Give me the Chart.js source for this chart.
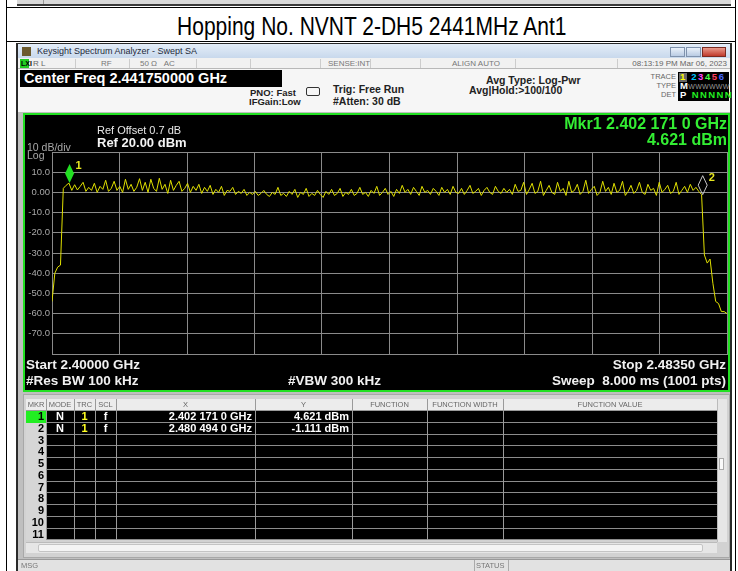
<!DOCTYPE html>
<html><head><meta charset="utf-8">
<script src="https://cdn.jsdelivr.net/npm/chart.js@4.4.1/dist/chart.umd.min.js"></script>
<style>
body{margin:0;width:738px;height:571px;overflow:hidden;background:#fff;font-family:"Liberation Sans",Arial,sans-serif;position:relative}
.a{position:absolute;white-space:nowrap}
.n{font-family:"Liberation Sans Narrow","Liberation Sans",Arial,sans-serif}
.b{font-weight:bold}
</style></head><body>
<script>
// ---------------- data ----------------
const chartTitle = 'Hopping No. NVNT 2-DH5 2441MHz Ant1';
const sweepStartGHz = 2.400;
const sweepStopGHz = 2.4835;
// trace levels (dBm), evenly spaced across the sweep
const traceLevels = [
 -54, -40, -37, -36,
 2, 3.5, 4.6, 1, 3.8, 1.2, 3,
 5, 0.5, 2.5, 1, 4.5, 0, 3, 1.5, 6, 0.5, 2, 5.5, 1, 3, 0, 6.5, 1.5, 4, 0.5, 2.5,
 6.8, 1, 5, 0, 6.5, 2, 0.5, 7, 1.5, 4, -0.5, 6, 1, 3.5, 5.5, 0.5, 2, 4.5, 0, 3,
 1, 4, -0.5, 2.5, 0.5, 3.5, -1, 1.5, 0, 3, -1.5, 1, 0.5, 2.5, -1, 0.5, -0.5, 1.5, -1.5, 0,
 -1, 0.5, -1.5, -0.5, 1, -1, -2, 0, -1, 2.5, -1.5, -0.5, -2, 0.5, -1, 1.5, -2.5, 0, -1, 2,
 -2, -0.5, -1.5, 1, -1, -2.5, 0.5, -1, 1.5, -1.5,
 -0.5, 2, -2, 0, -1, 1.5, -1.5, -0.5, 2.5, -1, 0, -2, 1, -0.5, 3, -1.5, 0, 2, -1, 0.5, -2, 1.5, -0.5,
 3.5, 0, 1.5, -1, 2.5, 0.5, -1.5, 3, 0, 1, -1, 2, 0.5, -1.5, 2.5, 0, 1.5, -1, 3, 0,
 -0.5, 2, -1, 1, 3.5, -0.5, 0.5, 2, -1.5, 1, 2.5, 0, -1, 3, 0.5, -0.5, 2, 0, 1.5, -1, 4, 0.5, 1,
 5, -1, 1.5, 4.5, -0.5, 0.5, 5.5, -1.5, 1, 3.5, 0, -1, 5, 0.5, 2, -1.5, 5.5, 0, 1, 4,
 -1, 0.5, 6, -0.5, 1.5, 3, -1.5, 0, 5.5, 0.5, 2.5, -1, 4.5, 0, 1, 5.5, -1.5, 0.5, 3.5, -0.5,
 1, 5, 0, -1, 4, 1, 2, -1.5, 5, 0, 1.5, 3.5, -0.5, 0.5, 5, -1, 1, 3, 0, 4, 1, 2.5, 0.5,
 -1.1,
 -31, -35, -33, -45, -54, -55, -59, -59, -60
];
const yTickValues = [-80, -70, -60, -50, -40, -30, -20, -10, 0, 10, 20];
const yTickLabels = ['', '-70.0', '-60.0', '-50.0', '-40.0', '-30.0', '-20.0', '-10.0', '0.00', '10.0', ''];
const xGridGHz = [2.400, 2.40835, 2.4167, 2.42505, 2.4334, 2.44175, 2.4501, 2.45845, 2.4668, 2.47515, 2.4835];
const markerNames = ['1', '2'];
const markerFreqsGHz = [2.402171, 2.480494];
const markerLevels = [4.621, -1.111];
const markerModes = ['N', 'N'];
const markerTraces = ['1', '1'];
const markerScales = ['f', 'f'];
const tableHeaders = ['MKR', 'MODE', 'TRC', 'SCL', 'X', 'Y', 'FUNCTION', 'FUNCTION WIDTH', 'FUNCTION VALUE'];
const tableRowCount = 11;
</script>

<!-- outer table / page -->
<div class="a" style="left:17px;top:0;width:714px;height:4px;background:#d9d9d9"></div>
<div class="a" style="left:17px;top:4px;width:714px;height:2px;background:#3a3a3a"></div>
<div class="a" style="left:43px;top:0;width:1px;height:4px;background:#999"></div>
<div class="a" style="left:6px;top:0;width:1px;height:571px;background:#000"></div>
<div class="a" style="left:735px;top:0;width:1px;height:571px;background:#000"></div>
<div class="a" style="left:6px;top:7px;width:730px;height:1px;background:#000"></div>
<div class="a" style="left:6px;top:41px;width:730px;height:1px;background:#000"></div>
<div class="a" id="title" style="left:7px;top:10px;width:728px;height:33px;line-height:33px;text-align:center;font-size:25px;color:#000;transform:scaleX(0.84);transform-origin:369px 0"></div>

<!-- analyzer window -->
<div class="a" style="left:16px;top:43px;width:716px;height:528px;background:#2a2a2a"></div>
<div class="a" style="left:18px;top:44px;width:712px;height:14px;background:linear-gradient(#e4edf8,#c8d8ec)"></div>
<div class="a" style="left:22px;top:47px;width:9px;height:9px;background:#6b5a2e"></div>
<div class="a" style="left:37px;top:44px;line-height:14px;font-size:9px;color:#1f2a3a">Keysight Spectrum Analyzer - Swept SA</div>
<div class="a" style="left:670px;top:47px;width:15px;height:10px;background:linear-gradient(#eaf1fa,#b9cbe3);border:1px solid #7f92ad;box-sizing:border-box"></div>
<div class="a" style="left:686px;top:47px;width:15px;height:10px;background:linear-gradient(#eaf1fa,#b9cbe3);border:1px solid #7f92ad;box-sizing:border-box"></div>
<div class="a" style="left:702px;top:47px;width:24px;height:10px;background:linear-gradient(#e99a8c,#c0392b);border:1px solid #7a2a20;box-sizing:border-box"></div>

<!-- status row -->
<div class="a" style="left:18px;top:58px;width:712px;height:11px;background:#f1f1f1;border-bottom:1px solid #b8b8b8;box-sizing:border-box"></div>
<div class="a" style="left:20px;top:59px;width:9px;height:9px;background:#22cc22"></div>
<div class="a n" style="left:21px;top:58px;line-height:11px;font-size:7px;color:#000;font-weight:bold">LXI</div>
<div class="a n" style="left:33px;top:58px;line-height:11px;font-size:8px;color:#666">R L</div>
<div class="a n" style="left:101px;top:58px;line-height:11px;font-size:8px;color:#777">RF</div>
<div class="a n" style="left:140px;top:58px;line-height:11px;font-size:8px;color:#777">50 Ω &nbsp;&nbsp;AC</div>
<div class="a n" style="left:328px;top:58px;line-height:11px;font-size:8px;color:#777">SENSE:INT</div>
<div class="a n" style="left:452px;top:58px;line-height:11px;font-size:8px;color:#777">ALIGN AUTO</div>
<div class="a n" style="left:626px;top:58px;width:101px;text-align:right;line-height:11px;font-size:8px;color:#666">08:13:19 PM Mar 06, 2023</div>
<div class="a" style="left:75px;top:59px;width:1px;height:9px;background:#ccc"></div>
<div class="a" style="left:129px;top:59px;width:1px;height:9px;background:#ccc"></div>
<div class="a" style="left:196px;top:59px;width:1px;height:9px;background:#ccc"></div>
<div class="a" style="left:250px;top:59px;width:1px;height:9px;background:#ccc"></div>
<div class="a" style="left:320px;top:59px;width:1px;height:9px;background:#ccc"></div>
<div class="a" style="left:370px;top:59px;width:1px;height:9px;background:#ccc"></div>
<div class="a" style="left:420px;top:59px;width:1px;height:9px;background:#ccc"></div>
<div class="a" style="left:515px;top:59px;width:1px;height:9px;background:#ccc"></div>
<div class="a" style="left:617px;top:59px;width:1px;height:9px;background:#ccc"></div>

<!-- info area -->
<div class="a" style="left:18px;top:69px;width:712px;height:43px;background:#f6f6f6"></div>
<div class="a" style="left:20px;top:70px;width:262px;height:17px;background:#000"></div>
<div class="a b" style="left:24px;top:70px;line-height:17px;font-size:14.5px;color:#fff">Center Freq 2.441750000 GHz</div>
<div class="a b n" style="left:250px;top:88px;line-height:10px;font-size:9.5px;color:#222">PNO: Fast</div>
<div class="a b n" style="left:249px;top:97px;line-height:10px;font-size:9.5px;color:#222">IFGain:Low</div>
<div class="a" style="left:306px;top:87px;width:14px;height:9px;border:1px solid #333;border-radius:2px;box-sizing:border-box"></div>
<div class="a b n" style="left:333px;top:84px;line-height:11px;font-size:10.5px;color:#222">Trig: Free Run</div>
<div class="a b n" style="left:333px;top:96px;line-height:11px;font-size:10.5px;color:#222">#Atten: 30 dB</div>
<div class="a b n" style="left:486px;top:75px;line-height:11px;font-size:10.5px;color:#222">Avg Type: Log-Pwr</div>
<div class="a b n" style="left:469px;top:85px;line-height:11px;font-size:10.5px;color:#222">Avg|Hold:&gt;100/100</div>
<div class="a n" style="left:630px;top:72px;width:46px;text-align:right;line-height:10px;font-size:7.5px;color:#666">TRACE</div>
<div class="a n" style="left:630px;top:81px;width:46px;text-align:right;line-height:10px;font-size:7.5px;color:#666">TYPE</div>
<div class="a n" style="left:630px;top:90px;width:46px;text-align:right;line-height:10px;font-size:7.5px;color:#666">DET</div>
<div class="a" style="left:678px;top:72px;width:51px;height:29px;background:#000"></div>
<div class="a" style="left:679px;top:73px;width:8px;height:9px;background:#666"></div>
<div class="a b n" style="left:680px;top:72px;line-height:10px;font-size:9.5px;letter-spacing:1.6px"><span style="color:#ffff00">1</span> <span style="color:#00c8ff">2</span><span style="color:#ff44ff">3</span><span style="color:#44ff44">4</span><span style="color:#ff4060">5</span><span style="color:#4466ff">6</span></div>
<div class="a b n" style="left:680px;top:81px;line-height:10px;font-size:9.5px;letter-spacing:0.3px"><span style="color:#fff">M</span><span style="color:#999;font-size:7px;font-weight:normal">WWWWWW</span></div>
<div class="a b n" style="left:680px;top:90px;line-height:10px;font-size:9.5px;letter-spacing:1.4px"><span style="color:#fff">P</span> <span style="color:#22ee22">NNNNN</span></div>

<!-- display panel -->
<div class="a" style="left:18px;top:112px;width:712px;height:459px;background:#bfbfbf"></div>
<div class="a" style="left:23px;top:113px;width:707px;height:279px;background:#000;border:2px solid #22e022;box-sizing:border-box"></div>
<canvas id="c" class="a" width="703" height="275" style="left:25px;top:115px;width:703px;height:275px"></canvas>
<div class="a" style="left:97px;top:124px;line-height:12px;font-size:11px;color:#e8e8e8">Ref Offset 0.7 dB</div>
<div class="a b" style="left:97px;top:136px;line-height:14px;font-size:13px;color:#f4f4f4">Ref 20.00 dBm</div>
<div class="a" style="left:27px;top:141px;line-height:12px;font-size:10.5px;color:#a8a8a8">10 dB/div</div>
<div class="a" style="left:27px;top:150px;line-height:11px;font-size:10.5px;color:#a8a8a8">Log</div>
<div class="a b" id="mkrA" style="left:400px;top:115px;width:327px;text-align:right;line-height:17px;font-size:16px;color:#33ee33"></div>
<div class="a b" id="mkrB" style="left:400px;top:131px;width:327px;text-align:right;line-height:17px;font-size:16px;color:#33ee33"></div>
<div class="a b" style="left:26px;top:357px;line-height:16px;font-size:13.5px;color:#f0f0f0">Start 2.40000 GHz</div>
<div class="a b" style="left:26px;top:373px;line-height:16px;font-size:13.5px;color:#f0f0f0">#Res BW 100 kHz</div>
<div class="a b" style="left:288px;top:373px;line-height:16px;font-size:13.5px;color:#f0f0f0">#VBW 300 kHz</div>
<div class="a b" style="left:500px;top:357px;width:226px;text-align:right;line-height:16px;font-size:13.5px;color:#f0f0f0">Stop 2.48350 GHz</div>
<div class="a b" style="left:450px;top:373px;width:276px;text-align:right;line-height:16px;font-size:13.5px;color:#f0f0f0">Sweep&nbsp;&nbsp;8.000 ms (1001 pts)</div>

<!-- marker table -->
<div class="a" style="left:23px;top:394px;width:707px;height:164px;background:#d2d2d2;border:1px solid #a8a8a8;box-sizing:border-box"></div>
<div id="tbl"></div>
<div class="a" style="left:717px;top:399px;width:10px;height:143px;background:#e6e6e6;border-left:1px solid #bbb;box-sizing:border-box"></div>
<div class="a" style="left:719px;top:458px;width:5px;height:12px;background:#fafafa;border:1px solid #aaa;box-sizing:border-box"></div>
<div class="a" style="left:26px;top:542px;width:691px;height:11px;background:#e6e6e6;border-top:1px solid #bbb;box-sizing:border-box"></div>
<div class="a" style="left:38px;top:544px;width:665px;height:8px;background:#f4f4f4;border:1px solid #c4c4c4;border-radius:2px;box-sizing:border-box"></div>
<div class="a" style="left:18px;top:559px;width:712px;height:12px;background:#e2e2e2;border-top:1px solid #999;box-sizing:border-box"></div>
<div class="a n" style="left:21px;top:560px;line-height:11px;font-size:7.5px;color:#777">MSG</div>
<div class="a" style="left:474px;top:560px;width:35px;height:11px;border-left:1px solid #aaa;border-right:1px solid #aaa;box-sizing:border-box"></div>
<div class="a n" style="left:476px;top:560px;line-height:11px;font-size:7.5px;color:#777">STATUS</div>

<script>
document.getElementById('title').textContent = chartTitle;
const fmtGHz = f => { const s = f.toFixed(7); return s.slice(0,5) + ' ' + s.slice(5,8) + ' ' + s.slice(8) + ' GHz'; };
const fmtDbm = v => v.toFixed(3) + ' dBm';
document.getElementById('mkrA').textContent = 'Mkr' + markerNames[0] + ' ' + fmtGHz(markerFreqsGHz[0]);
document.getElementById('mkrB').textContent = fmtDbm(markerLevels[0]);

// marker table
(function(){
  const colW = [20, 28, 21, 21, 139, 97, 75, 76, 214];
  const left0 = 26, top0 = 399, headH = 12, rowH = 11.75;
  const tbl = document.getElementById('tbl');
  const add = (html, st) => { const d = document.createElement('div'); d.className = 'a'; d.style.cssText = st; d.innerHTML = html; tbl.appendChild(d); return d; };
  let x = left0;
  const xs = colW.map(w => { const v = x; x += w; return v; });
  const totalW = x - left0;
  add('', `left:${left0}px;top:${top0}px;width:${totalW}px;height:${headH}px;background:#ececec`);
  add('', `left:${left0}px;top:${top0+headH}px;width:${totalW}px;height:${rowH*tableRowCount}px;background:#000`);
  tableHeaders.forEach((h, i) => add(h, `left:${xs[i]}px;top:${top0}px;width:${colW[i]}px;text-align:center;line-height:${headH}px;font-size:7.5px;color:#666;font-family:'Liberation Sans Narrow','Liberation Sans',Arial`));
  for (let r = 0; r < tableRowCount; r++) {
    const y = top0 + headH + r * rowH;
    add('', `left:${xs[0]}px;top:${y}px;width:${colW[0]}px;height:${rowH}px;background:${r===0?'#22ee22':'#d6d6d6'}`);
    add(String(r+1), `left:${xs[0]}px;top:${y}px;width:${colW[0]-2}px;text-align:right;line-height:${rowH}px;font-size:11px;font-weight:bold;color:#000`);
    add('', `left:${xs[1]}px;top:${Math.round(y+rowH)-1}px;width:${totalW - colW[0]}px;height:1px;background:#8c8c8c`);
    if (r < markerNames.length) {
      const st = `top:${y}px;line-height:${rowH}px;font-size:11px;font-weight:bold;`;
      add(markerModes[r], st + `left:${xs[1]}px;width:${colW[1]}px;text-align:center;color:#fff`);
      add(markerTraces[r], st + `left:${xs[2]}px;width:${colW[2]}px;text-align:center;color:#ffff22`);
      add(markerScales[r], st + `left:${xs[3]}px;width:${colW[3]}px;text-align:center;color:#fff`);
      add(fmtGHz(markerFreqsGHz[r]), st + `left:${xs[4]}px;width:${colW[4]-3}px;text-align:right;color:#fff`);
      add(fmtDbm(markerLevels[r]), st + `left:${xs[5]}px;width:${colW[5]-3}px;text-align:right;color:#fff`);
    }
  }
  xs.slice(1).forEach(v => add('', `left:${v}px;top:${top0}px;width:1px;height:${headH + rowH*tableRowCount}px;background:#9a9a9a`));
  add('', `left:${left0}px;top:${top0+headH-1}px;width:${totalW}px;height:1px;background:#9a9a9a`);
})();

// chart
const traceFreqsGHz = traceLevels.map((_, i) => sweepStartGHz + i * (sweepStopGHz - sweepStartGHz) / (traceLevels.length - 1));
const markerPlugin = {
  id: 'markers',
  afterDatasetsDraw(chart) {
    const { ctx, scales: { x, y } } = chart;
    markerFreqsGHz.forEach((f, i) => {
      const px = x.getPixelForValue(f), py = y.getPixelForValue(markerLevels[i]);
      ctx.save();
      ctx.beginPath();
      ctx.moveTo(px, py);
      ctx.lineTo(px + 4.5, py - 9.5);
      ctx.lineTo(px, py - 19);
      ctx.lineTo(px - 4.5, py - 9.5);
      ctx.closePath();
      if (i === 0) { ctx.fillStyle = '#22e022'; ctx.fill(); }
      else { ctx.strokeStyle = '#c8c8c8'; ctx.lineWidth = 1; ctx.stroke(); }
      ctx.fillStyle = '#e6e620';
      ctx.font = 'bold 11px "Liberation Sans", Arial';
      ctx.textBaseline = 'alphabetic';
      ctx.fillText(markerNames[i], px + 6, py - 14);
      ctx.restore();
    });
  }
};
new Chart(document.getElementById('c'), {
  type: 'line',
  data: { datasets: [{
    data: traceFreqsGHz.map((f, i) => ({ x: f, y: traceLevels[i] })),
    borderColor: '#e0e000', borderWidth: 1, pointRadius: 0, tension: 0, fill: false
  }] },
  options: {
    responsive: false, animation: false, events: [],
    layout: { padding: { top: 37, right: 1, bottom: 36, left: 0 } },
    plugins: { legend: { display: false }, tooltip: { enabled: false } },
    scales: {
      x: {
        type: 'linear', min: sweepStartGHz, max: sweepStopGHz,
        afterBuildTicks: s => { s.ticks = xGridGHz.map(v => ({ value: v })); },
        afterFit: s => { s.height = 0; },
        ticks: { display: false },
        grid: { color: '#8a8a8a', lineWidth: 1, drawTicks: false },
        border: { display: true, color: '#8a8a8a' }
      },
      y: {
        min: -80, max: 20,
        afterBuildTicks: s => { s.ticks = yTickValues.map(v => ({ value: v })); },
        afterFit: s => { s.width = 27; },
        ticks: { color: '#a8a8a8', font: { size: 9.5, family: '"Liberation Sans", Arial' }, padding: 2,
                 callback: v => yTickLabels[yTickValues.indexOf(v)] },
        grid: { color: '#8a8a8a', lineWidth: 1, drawTicks: false },
        border: { display: true, color: '#8a8a8a' }
      }
    }
  },
  plugins: [markerPlugin]
});
</script>
</body></html>
